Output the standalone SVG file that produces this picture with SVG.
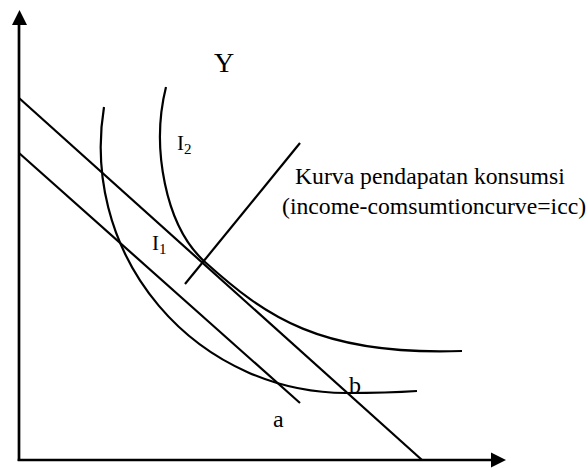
<svg xmlns="http://www.w3.org/2000/svg" width="588" height="468" viewBox="0 0 588 468">
<style>
.ln{fill:none;stroke:#000;stroke-width:2.2;stroke-linecap:butt}
.ax{fill:none;stroke:#000;stroke-width:2.7}
.t{font-family:"Liberation Serif","Times New Roman",serif;fill:#000}
</style>
<rect width="588" height="468" fill="#fff"/>
<g id="axes">
<line class="ax" x1="19" y1="461" x2="19" y2="22"/>
<polygon points="19.5,10 12,25 27,25" fill="#000"/>
<line class="ax" x1="17.7" y1="460" x2="493" y2="460"/>
<polygon points="506,460 491,452.5 491,467.5" fill="#000"/>
</g>
<g id="connectors">
<line id="budget-outer" class="ln" x1="19" y1="98" x2="422" y2="460"/>
<line id="budget-inner" class="ln" x1="19" y1="153" x2="300" y2="403"/>
<line id="icc" class="ln" x1="185" y1="284" x2="300" y2="143"/>
<path id="I1-curve" class="ln" d="M104,107 A246,246 0 0 0 346,393 C370,393 395,392.5 417,391"/>
<path id="I2-curve" class="ln" d="M166,87 C151,147 165,226 205,262 C265,316 320,356 462,351"/>
</g>
<g id="label-Y"><text class="t" x="214" y="72" font-size="28">Y</text></g>
<g id="label-I2"><text class="t" x="177" y="150" font-size="21">I<tspan font-size="15" dy="4">2</tspan></text></g>
<g id="label-I1"><text class="t" x="152" y="250" font-size="21">I<tspan font-size="15" dy="4">1</tspan></text></g>
<g id="label-icc">
<text class="t" x="295" y="184" font-size="23.7">Kurva pendapatan konsumsi</text>
<text class="t" x="282" y="214" font-size="23.7">(income-comsumtioncurve=icc)</text>
</g>
<g id="label-a"><text class="t" x="273" y="427" font-size="24">a</text></g>
<g id="label-b"><text class="t" x="349" y="393" font-size="24">b</text></g>
</svg>
